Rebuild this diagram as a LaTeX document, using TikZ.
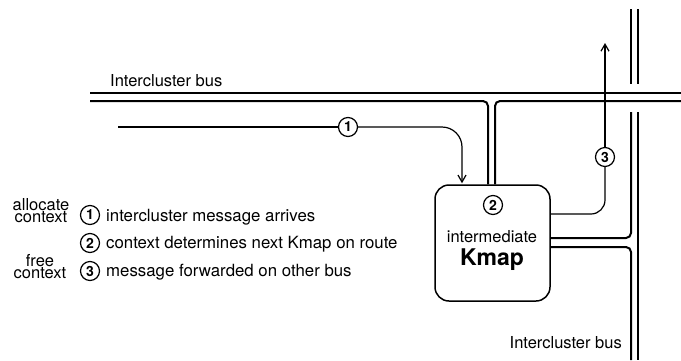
\documentclass[tikz,border=0pt]{standalone}
\usepackage{fontspec}
\setmainfont{TeX Gyre Heros}
\usetikzlibrary{arrows.meta}
\tikzset{
  bus/.style={line width=2pt},
  msg/.style={line width=1.2pt},
  msgarrow/.style={msg,-{Straight Barb[length=7pt,width=8pt,line width=1.2pt]}},
  num/.style={circle,draw,line width=1.2pt,minimum size=19pt,inner sep=0pt,fill=white,font=\fontsize{14}{14}\selectfont\bfseries},
  txt/.style={inner sep=0pt,font=\fontsize{16.5}{16.5}\selectfont},
  legtxt/.style={inner sep=0pt,font=\fontsize{16.8}{16.8}\selectfont},
  sidetxt/.style={inner sep=0pt,align=center,font=\fontsize{16.5}{11.5}\selectfont},
  kmapbox/.style={draw,line width=1.5pt,rounded corners=14pt,minimum width=115pt,minimum height=116pt,inner sep=0pt}
}
\begin{document}
\begin{tikzpicture}[x=1pt,y=-1pt]
\useasboundingbox (0,0) rectangle (681,360);
% Kmap box
\node[kmapbox] (kmap) at (492.5,243) {};
\node[num] (c2) at (493,205) {2};
\node[txt,anchor=base] (inter) at (492,242) {intermediate};
\node[inner sep=0pt,anchor=base,font=\fontsize{23}{23}\selectfont\bfseries] (km) at (492,265) {Kmap};
% bus coordinates
\coordinate (tl1) at (90,93);
\coordinate (tr1) at (681,93);
\coordinate (tl2) at (90,101);
\coordinate (tk1) at (488,101);
\coordinate (tk2) at (495,101);
\coordinate (tr2) at (681,101);
\coordinate (va1) at (631,9);
\coordinate (va2) at (631,84);
\coordinate (vb1) at (638,9);
\coordinate (vb2) at (638,84);
\coordinate (vc1) at (631,112);
\coordinate (vc2) at (631,238);
\coordinate (vd1) at (638,112);
\coordinate (vd2) at (638,360);
\coordinate (ve1) at (631,247);
\coordinate (ve2) at (631,360);
% horizontal bus
\draw[bus] (tl1) -- (tr1);
\draw[bus,rounded corners=5pt] (tl2) -- (tk1) -- (tk1 |- kmap.north);
\draw[bus,rounded corners=5pt] (tk2 |- kmap.north) -- (tk2) -- (tr2);
% vertical bus
\draw[bus] (va1) -- (va2);
\draw[bus] (vb1) -- (vb2);
\draw[bus,rounded corners=5pt] (vc1) -- (vc2) -- (vc2 -| kmap.east);
\draw[bus,rounded corners=5pt] (ve1 -| kmap.east) -- (ve1) -- (ve2);
\draw[bus] (vd1) -- (vd2);
% labels
\node[txt,anchor=base west] (lbtop) at (110,86) {Intercluster bus};
\node[txt,anchor=base east] (lbbot) at (622,348) {Intercluster bus};
% message 1
\coordinate (m1s) at (118,127);
\coordinate (m1c) at (462,127);
\node[num] (c1) at (348,127) {1};
\draw[msg] (m1s) -- (c1);
\draw[msgarrow,rounded corners=20pt] (c1) -- (m1c) -- ([yshift=1pt]m1c |- kmap.north);
% message 3
\coordinate (m3c) at (605,214);
\coordinate (m3e) at (605,43);
\node[num] (c3) at (605,157) {3};
\draw[msg,rounded corners=14pt] (m3c -| kmap.east) -- (m3c) -- (c3);
\draw[msgarrow] (c3) -- (m3e);
% legend
\node[sidetxt,anchor=base] (alloc) at (41,222) {allocate\\context};
\node[num] (l1) at (90,215) {1};
\node[legtxt,anchor=base west] (t1) at (106,221) {intercluster message arrives};
\node[num] (l2) at (90,243) {2};
\node[legtxt,anchor=base west] (t2) at (106,248) {context determines next Kmap on route};
\node[sidetxt,anchor=base] (free) at (40,278) {free\\context};
\node[num] (l3) at (90,271) {3};
\node[legtxt,anchor=base west] (t3) at (106,276) {message forwarded on other bus};
\end{tikzpicture}
\end{document}
